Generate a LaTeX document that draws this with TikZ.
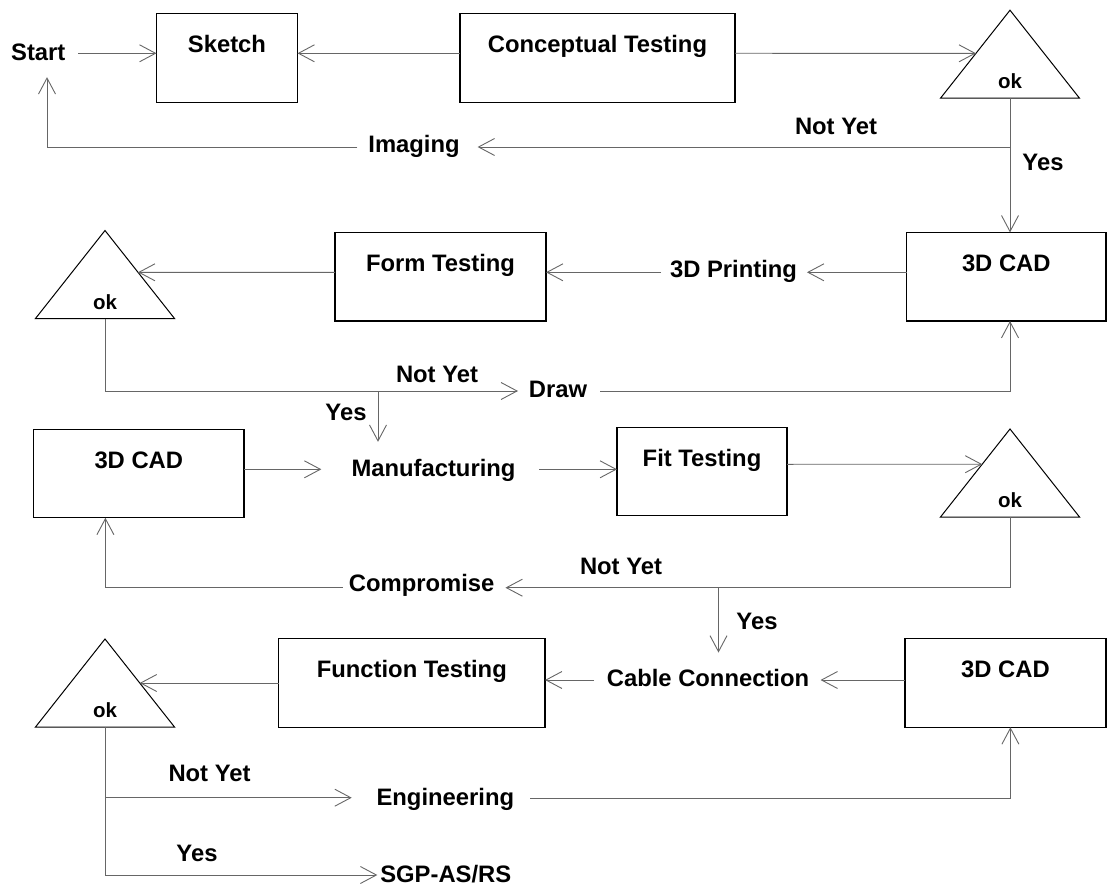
\documentclass[tikz,border=0pt]{standalone}
\usepackage{fontspec}
\setmainfont{Liberation Sans}
\usetikzlibrary{arrows.meta,calc}

\begin{document}
\begin{tikzpicture}[x=1pt,y=-1pt,
  lbl/.style={font=\bfseries\fontsize{23.8}{28}\selectfont, inner sep=0pt, outer sep=0pt, text depth=0pt},
  stage/.style={draw=black, line width=1.3pt, inner sep=0pt, outer sep=0pt,
    minimum height=88.5pt, font=\bfseries\fontsize{23.8}{28}\selectfont,
    text height=17pt, text depth=28pt},
  decision/.style={inner sep=0pt, outer sep=0pt, minimum width=139pt, minimum height=88pt,
    font=\bfseries\fontsize{20.5}{24}\selectfont, text height=76pt, text depth=7pt},
  outline/.style={draw=black, line width=1pt, line join=miter},
  link/.style={draw=black!60, line width=0.9pt, -{Straight Barb[length=16pt,width=17pt]}},
]
\useasboundingbox (0,0) rectangle (1110,885);

% process boxes
\node[stage, minimum width=141pt]   (sketch)  at (227,58)      {Sketch};
\node[stage, minimum width=275pt]   (concept) at (597.5,58)    {Conceptual Testing};
\node[stage, minimum width=211pt]   (form)    at (440.5,276.7) {Form Testing};
\node[stage, minimum width=199.5pt] (cad1)    at (1006.3,276.7){3D CAD};
\node[stage, minimum width=210.4pt] (cad2)    at (138.8,473.5) {3D CAD};
\node[stage, minimum width=170pt]   (fit)     at (702,471.5)   {Fit Testing};
\node[stage, minimum width=266.4pt] (func)    at (411.8,683)   {Function Testing};
\node[stage, minimum width=201pt]   (cad3)    at (1005.5,683)  {3D CAD};

% decision triangles
\node[decision] (ok1) at (1010,54.2) {ok};
\node[decision] (ok2) at (105,274.5) {ok};
\node[decision] (ok3) at (1010,473)  {ok};
\node[decision] (ok4) at (105,683)   {ok};
\foreach \t in {ok1,ok2,ok3,ok4}
  \draw[outline] (\t.north) -- (\t.south east) -- (\t.south west) -- cycle;

% free-standing steps
\node[lbl] (start)      at (38.3,52.3)   {Start};
\node[lbl] (imaging)    at (414,144)     {Imaging};
\node[lbl] (printing)   at (733.5,269)   {3D Printing};
\node[lbl] (drawstep)   at (558,389)     {Draw};
\node[lbl] (manuf)      at (433.5,467.7) {Manufacturing};
\node[lbl] (compromise) at (421.6,583.3) {Compromise};
\node[lbl] (cable)      at (708,677.7)   {Cable Connection};
\node[lbl] (eng)        at (445.3,797.3) {Engineering};
\node[lbl] (sgp)        at (445.8,873.5) {SGP-AS/RS};

% branch labels
\node[lbl] (nyA)  at (836,126)     {Not Yet};
\node[lbl] (yesA) at (1043,162)    {Yes};
\node[lbl] (nyB)  at (437,374)     {Not Yet};
\node[lbl] (yesB) at (346,412)     {Yes};
\node[lbl] (nyC)  at (621,566.7)   {Not Yet};
\node[lbl] (yesC) at (757,621.7)   {Yes};
\node[lbl] (nyD)  at (209.5,773.3) {Not Yet};
\node[lbl] (yesD) at (197,853.3)   {Yes};

% branch points
\coordinate (j1) at (1010,147);
\coordinate (j2) at (378,391);
\coordinate (j3) at (718.5,587.7);
\coordinate (j4) at (105,797.7);

% row 1
\draw[link] ([xshift=13pt,yshift=-1pt]start.east) -- ([yshift=4.7pt]sketch.west);
\draw[link] ([yshift=4.7pt]concept.west) -- ([yshift=4.7pt]sketch.east);
\draw[link] ([yshift=4.7pt]concept.east) -- ($(ok1.north)!0.49!(ok1.south west)$);
\draw[link] (ok1.south) -- (ok1.south |- cad1.north);
\draw[link] (j1) -- ([xshift=18pt,yshift=-3pt]imaging.east);
\draw[link] ([xshift=-11pt,yshift=-3pt]imaging.west) -| ([xshift=8.7pt,yshift=-16.5pt]start.south);

% row 2
\draw[link] ([yshift=4.4pt]cad1.west) -- ([xshift=10pt,yshift=-3.3pt]printing.east);
\draw[link] ([xshift=-9pt,yshift=-3.3pt]printing.west) -- ([yshift=4.4pt]form.east);
\draw[link] ([yshift=4.4pt]form.west) -- ($(ok2.north)!0.475!(ok2.south east)$);
\draw[link] (ok2.south) |- ([xshift=-10.9pt,yshift=-2pt]drawstep.west);
\draw[link] ([xshift=13pt,yshift=-2pt]drawstep.east) -| ([xshift=3.7pt]cad1.south);
\draw[link] (j2) -- ($(j2 |- manuf.north)+(0,-17.2)$);

% row 3
\draw[link] ([yshift=4.2pt]cad2.east) -- ([xshift=-30.2pt,yshift=-1.6pt]manuf.west);
\draw[link] ([xshift=23.8pt,yshift=-1.6pt]manuf.east) -- ([yshift=2.2pt]fit.west);
\draw[link] ([yshift=7.2pt]fit.east) -- ($(ok3.north)!0.40!(ok3.south west)$);
\draw[link] (ok3.south) |- ([xshift=11.1pt,yshift=-4.4pt]compromise.east);
\draw[link] ([xshift=-6pt,yshift=-4.4pt]compromise.west) -| ([xshift=-33.4pt]cad2.south);
\draw[link] (j3) -- ($(j3 |- cable.north)+(0,-16.5)$);

% row 4
\draw[link] ([yshift=3pt]cad3.west) -- ([xshift=11.4pt,yshift=-2.3pt]cable.east);
\draw[link] ([xshift=-12.8pt,yshift=-2.3pt]cable.west) -- ([yshift=3pt]func.east);
\draw[link] (func.west) -- ($(ok4.north)!0.5!(ok4.south east)$);
\draw[link] (ok4.south) |- ([xshift=-3pt,yshift=-1.5pt]sgp.west);
\draw[link] (j4) -- ([xshift=-24.8pt,yshift=-0.4pt]eng.west);
\draw[link] ([xshift=16pt,yshift=-0.7pt]eng.east) -| ([xshift=4.9pt]cad3.south);
\end{tikzpicture}
\end{document}
